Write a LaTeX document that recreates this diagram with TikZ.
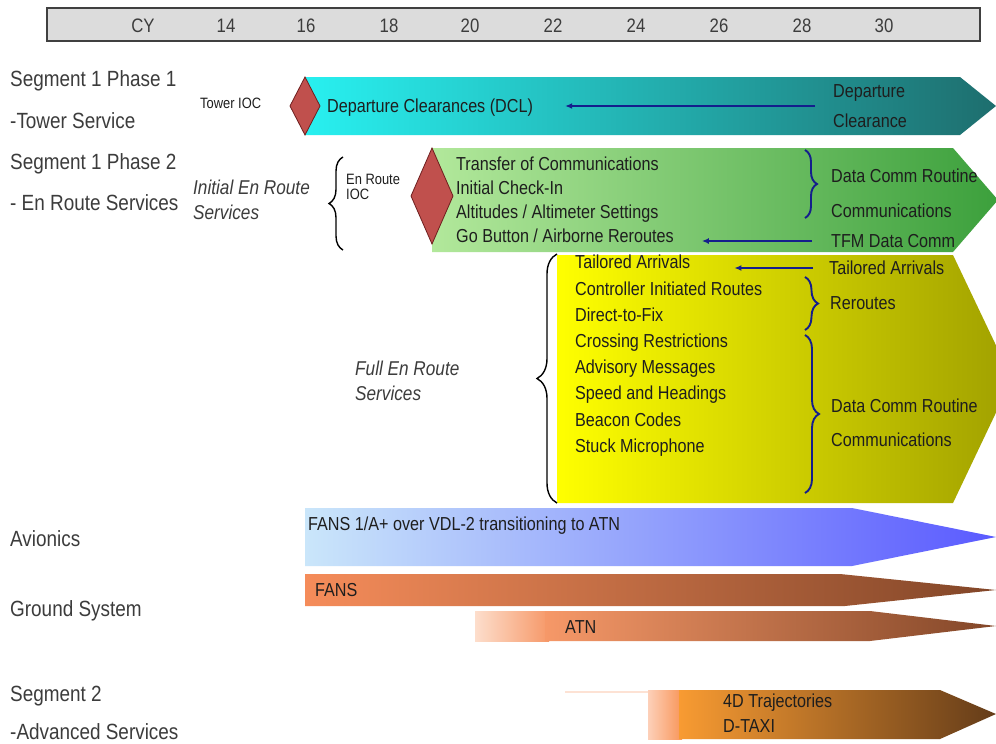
\documentclass[tikz,border=0pt]{standalone}
\usepackage{fontspec}
\setmainfont{Liberation Sans}[FakeStretch=0.86]
\usetikzlibrary{decorations.pathreplacing, arrows.meta}
\definecolor{hdrfill}{RGB}{220,220,220}
\definecolor{hdrline}{RGB}{64,64,64}
\definecolor{labelc}{RGB}{60,60,60}
\definecolor{textc}{RGB}{30,30,30}
\definecolor{navyc}{RGB}{20,30,140}
\definecolor{diafill}{RGB}{192,80,77}
\definecolor{diadraw}{RGB}{110,30,30}
\definecolor{cyA}{RGB}{40,240,240}
\definecolor{cyB}{RGB}{20,205,205}
\definecolor{cyC}{RGB}{30,110,110}
\definecolor{grA}{RGB}{178,232,155}
\definecolor{grB}{RGB}{130,210,110}
\definecolor{grC}{RGB}{60,160,60}
\definecolor{yeA}{RGB}{255,255,0}
\definecolor{yeB}{RGB}{236,236,0}
\definecolor{yeC}{RGB}{160,160,0}
\definecolor{blA}{RGB}{202,230,250}
\definecolor{blB}{RGB}{165,195,250}
\definecolor{blC}{RGB}{90,90,255}
\definecolor{orA}{RGB}{245,140,90}
\definecolor{orB}{RGB}{210,120,75}
\definecolor{orC}{RGB}{130,70,40}
\definecolor{pcA}{RGB}{253,222,204}
\definecolor{pcB}{RGB}{246,152,104}
\definecolor{fdA}{RGB}{248,155,50}
\definecolor{fdB}{RGB}{210,125,45}
\definecolor{fdC}{RGB}{100,60,25}
\definecolor{pdA}{RGB}{253,208,185}
\definecolor{pdB}{RGB}{248,150,90}
\definecolor{faint}{RGB}{253,226,212}
\begin{document}
\begin{tikzpicture}[x=1pt,y=-1pt,
  lbl/.style={anchor=west, inner sep=0pt, font=\fontsize{22}{26}\selectfont, text height=15.8pt, text depth=0pt, text=labelc},
  txt/.style={anchor=west, inner sep=0pt, font=\fontsize{18.8}{22}\selectfont, text height=13.5pt, text depth=0pt, text=textc},
  small/.style={anchor=west, inner sep=0pt, font=\fontsize{15}{18}\selectfont, text height=10.7pt, text depth=0pt, text=textc},
  itl/.style={anchor=west, inner sep=0pt, font=\fontsize{20}{24}\selectfont\itshape, text height=14.3pt, text depth=0pt, text=labelc},
  hdr/.style={anchor=center, inner sep=0pt, font=\fontsize{19.5}{22}\selectfont, text height=14pt, text depth=0pt, text=labelc},
  bluearr/.style={draw=navyc, line width=2.2pt, -{Latex[length=7pt,width=6pt]}},
  bbrace/.style={decorate, decoration={brace, amplitude=#1}, draw=black, line width=1.4pt},
  nbrace/.style={decorate, decoration={brace, amplitude=#1}, draw=navyc, line width=1.9pt},
  dia/.style={fill=diafill, draw=diadraw, line width=0.8pt}
]
\useasboundingbox (0,0) rectangle (996,744);
\fill[white] (0,0) rectangle (996,744);
\clip (0,0) rectangle (996,744);

% header
\draw[fill=hdrfill, draw=hdrline, line width=1.2pt] (47,8) rectangle (980,41);
\node[hdr] (hcy) at (143,25) {CY};
\node[hdr] (h14) at (226,25) {14};
\node[hdr] (h16) at (306,25) {16};
\node[hdr] (h18) at (389,25) {18};
\node[hdr] (h20) at (470,25) {20};
\node[hdr] (h22) at (553,25) {22};
\node[hdr] (h24) at (636,25) {24};
\node[hdr] (h26) at (719,25) {26};
\node[hdr] (h28) at (802,25) {28};
\node[hdr] (h30) at (884,25) {30};

% row labels
\node[lbl] (s1p1) at (10,79) {Segment 1 Phase 1};
\node[lbl] (tws) at (10,121) {-Tower Service};
\node[lbl] (s1p2) at (10,162) {Segment 1 Phase 2};
\node[lbl] (ers) at (10,203) {- En Route Services};
\node[lbl] (avi) at (10,539) {Avionics};
\node[lbl] (gnd) at (10,609) {Ground System};
\node[lbl] (seg2) at (10,694) {Segment 2};
\node[lbl] (adv) at (10,732) {-Advanced Services};

% bars
\shade[left color=cyA, middle color=cyB, right color=cyC] (305,77) -- (960,77) -- (996,106) -- (960,135) -- (305,135) -- cycle;
\shade[left color=grA, middle color=grB, right color=grC] (432,148) -- (953,148) -- (998,200) -- (953,252) -- (432,252) -- cycle;
\shade[left color=yeA, middle color=yeB, right color=yeC] (557,255) -- (953,255) -- (1012,379) -- (953,503) -- (557,503) -- cycle;
\shade[left color=blA, middle color=blB, right color=blC] (305,508) -- (852,508) -- (996,537) -- (852,566) -- (305,566) -- cycle;
\shade[left color=orA, middle color=orB, right color=orC] (305,574) -- (840,574) -- (996,590) -- (845,606) -- (305,606) -- cycle;
\shade[left color=pcA, right color=pcB] (475,611) rectangle (549,641);
\shade[left color=pcB, middle color=orB, right color=orC] (545,611) -- (870,611) -- (996,626) -- (870,641) -- (545,641) -- cycle;
\fill[faint] (565,691) rectangle (648,693);
\shade[left color=pdA, right color=pdB] (648,690) rectangle (682,739);
\shade[left color=fdA, middle color=fdB, right color=fdC] (679,690) -- (940,690) -- (996,714) -- (940,739) -- (679,739) -- cycle;

% diamonds
\draw[dia] (290,106) -- (305,77) -- (320,106) -- (305,135) -- cycle;
\draw[dia] (411,196) -- (432,148) -- (453,196) -- (432,244) -- cycle;

% row 1 texts
\node[small] (tioc) at (200,103) {Tower IOC};
\node[txt] (dcl) at (327,106) {Departure Clearances (DCL)};
\node[txt] (depa) at (833,91) {Departure};
\node[txt] (depb) at (833,121) {Clearance};
\draw[bluearr, shorten <=18pt, shorten >=32pt] (depa.west |- dcl.east) -- (dcl.east);

% row 2 texts
\node[itl] (ier1) at (193,187) {Initial En Route};
\node[itl] (ier2) at (193,212) {Services};
\node[small] (eroc1) at (346,179) {En Route};
\node[small] (eroc2) at (346,194) {IOC};
\draw[bbrace=14pt] (343,250) -- (343,157);
\node[txt] (g1) at (456,164) {Transfer of Communications};
\node[txt] (g2) at (456,188) {Initial Check-In};
\node[txt] (g3) at (456,212) {Altitudes / Altimeter Settings};
\node[txt] (g4) at (456,236) {Go Button / Airborne Reroutes};
\draw[nbrace=12pt] (805,150) -- (805,218);
\node[txt] (gdc1) at (831,176) {Data Comm Routine};
\node[txt] (gdc2) at (831,211) {Communications};
\node[txt] (tfm) at (831,241) {TFM Data Comm};
\draw[bluearr, shorten <=19pt, shorten >=28pt] (tfm.west) -- (g4.east |- tfm.west);

% row 3 texts
\node[itl] (fer1) at (355,368) {Full En Route};
\node[itl] (fer2) at (355,393) {Services};
\draw[bbrace=20pt] (557,503) -- (557,254);
\node[txt] (y1) at (575,262) {Tailored Arrivals};
\node[txt] (y2) at (575,289) {Controller Initiated Routes};
\node[txt] (y3) at (575,315) {Direct-to-Fix};
\node[txt] (y4) at (575,341) {Crossing Restrictions};
\node[txt] (y5) at (575,367) {Advisory Messages};
\node[txt] (y6) at (575,393) {Speed and Headings};
\node[txt] (y7) at (575,420) {Beacon Codes};
\node[txt] (y8) at (575,446) {Stuck Microphone};
\node[txt] (yta) at (829,268) {Tailored Arrivals};
\draw[bluearr, shorten <=16pt, shorten >=44pt] (yta.west) -- (y1.east |- yta.west);
\draw[nbrace=13pt] (805,277) -- (805,330);
\node[txt] (yrr) at (830,303) {Reroutes};
\draw[nbrace=14pt] (805,335) -- (805,493);
\node[txt] (ydc1) at (831,406) {Data Comm Routine};
\node[txt] (ydc2) at (831,440) {Communications};

% lower bars texts
\node[txt] (fans1) at (308,524) {FANS 1/A+ over VDL-2 transitioning to ATN};
\node[txt] (fans) at (315,590) {FANS};
\node[txt] (atn) at (565,627) {ATN};
\node[txt] (fd1) at (723,701) {4D Trajectories};
\node[txt] (fd2) at (723,726) {D-TAXI};
\end{tikzpicture}
\end{document}
